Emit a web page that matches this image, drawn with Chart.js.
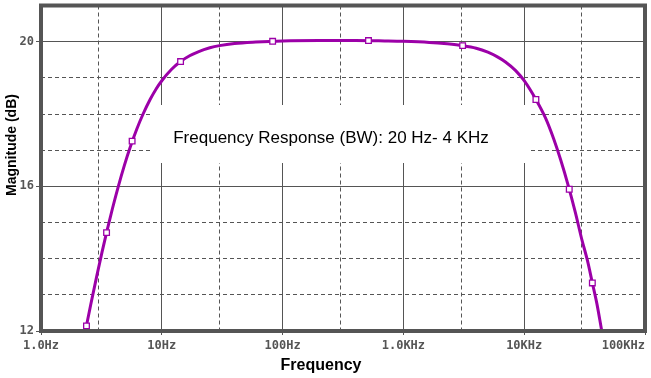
<!DOCTYPE html>
<html>
<head>
<meta charset="utf-8">
<script src="https://cdn.jsdelivr.net/npm/chart.js@4/dist/chart.umd.min.js"></script>
<style>
  html, body { margin: 0; padding: 0; background: #fff; }
  #wrap { width: 651px; height: 378px; }
</style>
</head>
<body>
<div id="wrap"><canvas id="chart" width="651" height="378"></canvas></div>
<script>
// trace (Hz, dB)
const freqHz = [2.2, 2.33, 2.6, 2.9, 3.2, 3.5, 3.9, 4.35, 4.9, 5.5, 6.2, 7, 8, 9, 10, 12, 14.3, 17, 20, 25, 30, 40, 60,
  100, 200, 400, 700, 1000, 1640, 2300, 3092, 4000, 5000, 6000, 7000, 8500, 10000, 12500, 15000, 17500, 20000,
  23250, 26500, 30000, 33370, 36650, 40000, 43850, 47000]
const magDb = [11.56, 12.0, 12.78, 13.53, 14.18, 14.74, 15.38, 15.98, 16.58, 17.1, 17.58, 18.0, 18.4, 18.7, 18.92,
  19.23, 19.45, 19.61, 19.72, 19.83, 19.89, 19.95, 19.99,
  20.02, 20.03, 20.03, 20.02, 20.01, 19.98, 19.94, 19.89, 19.82, 19.71, 19.58, 19.44, 19.2, 18.92, 18.4, 17.89,
  17.32, 16.74, 16.0, 15.28, 14.53, 13.95, 13.33, 12.75, 12.0, 11.45]

// little square markers on the trace
const markerHz = [2.38, 3.49, 5.68, 14.3, 82.7, 514, 3092, 12500, 23600, 36650]
const markerDb = [12.14, 14.72, 17.25, 19.45, 20.01, 20.03, 19.89, 18.4, 15.92, 13.33]

const xTickValues = [1, 3, 10, 30, 100, 300, 1000, 3000, 10000, 30000, 100000]
// last label sits inside the frame, padded so it is not cut at the edge
const xTickLabels = { 1: '1.0Hz', 10: '10Hz', 100: '100Hz', 1000: '1.0KHz', 10000: '10KHz', 100000: '100KHz      ' }
const yMajor = [12, 16, 20]

const traceColor = '#9c00a8'
const gridColor = '#555'

const frame = {
  id: 'frame',
  beforeDatasetsDraw(chart) {
    const ctx = chart.ctx
    // white label box over the grid
    ctx.save()
    ctx.fillStyle = '#fff'
    ctx.fillRect(152, 105, 376, 58)
    ctx.fillStyle = '#000'
    ctx.font = '17px "Liberation Sans", Arial, sans-serif'
    ctx.textAlign = 'center'
    ctx.textBaseline = 'middle'
    ctx.fillText('Frequency Response (BW): 20 Hz- 4 KHz', 331, 138)
    ctx.restore()
  },
  afterDatasetsDraw(chart) {
    const ctx = chart.ctx
    const a = chart.chartArea
    ctx.save()
    ctx.strokeStyle = '#555'
    ctx.lineWidth = 4
    ctx.strokeRect(a.left, a.top, a.right - a.left, a.bottom - a.top)
    // axis titles
    ctx.fillStyle = '#000'
    ctx.font = 'bold 16px "Liberation Sans", Arial, sans-serif'
    ctx.textAlign = 'center'
    ctx.textBaseline = 'middle'
    ctx.fillText('Frequency', 321, 366)
    ctx.translate(12.5, 145)
    ctx.rotate(-Math.PI / 2)
    ctx.font = 'bold 14px "Liberation Sans", Arial, sans-serif'
    ctx.fillText('Magnitude (dB)', 0, 0)
    ctx.restore()
  }
}

const tickFont = { family: '"DejaVu Sans Mono", monospace', size: 12, weight: 'bold' }

new Chart(document.getElementById('chart'), {
  type: 'line',
  data: {
    datasets: [
      {
        data: freqHz.map((f, i) => ({ x: f, y: magDb[i] })),
        borderColor: traceColor,
        borderWidth: 3,
        pointRadius: 0,
        cubicInterpolationMode: 'monotone',
        fill: false,
        order: 2
      },
      {
        data: markerHz.map((f, i) => ({ x: f, y: markerDb[i] })),
        showLine: false,
        pointStyle: 'rect',
        pointRadius: 4,
        pointBorderWidth: 1.3,
        pointBorderColor: traceColor,
        pointBackgroundColor: '#fff',
        order: 1
      }
    ]
  },
  options: {
    responsive: false,
    animation: false,
    layout: { padding: { top: 5.5, right: 6, left: 0, bottom: 0 } },
    plugins: { legend: { display: false }, tooltip: { enabled: false } },
    scales: {
      x: {
        type: 'logarithmic',
        min: 1,
        max: 100000,
        afterBuildTicks: (s) => { s.ticks = xTickValues.map((v) => ({ value: v })) },
        afterFit: (s) => { s.height = 47; s.paddingLeft = 0; s.paddingRight = 0 },
        ticks: {
          autoSkip: false,
          maxRotation: 0,
          padding: 4,
          color: '#555',
          font: tickFont,
          callback: (v) => xTickLabels[v] || ''
        },
        grid: {
          color: gridColor,
          lineWidth: 1,
          tickLength: 4,
          tickColor: (c) => (c.tick && xTickLabels[c.tick.value] ? gridColor : 'rgba(0,0,0,0)')
        },
        border: {
          display: false,
          dash: (c) => (c.tick && !xTickLabels[c.tick.value] ? [4, 3] : [])
        }
      },
      y: {
        min: 12,
        max: 21,
        afterFit: (s) => { s.width = 41; s.paddingTop = 0; s.paddingBottom = 0 },
        ticks: {
          stepSize: 1,
          padding: 2,
          color: '#555',
          font: tickFont,
          callback: (v) => (yMajor.includes(v) ? String(v) : '')
        },
        grid: {
          color: gridColor,
          lineWidth: 1,
          tickLength: 5,
          tickColor: (c) => (c.tick && yMajor.includes(c.tick.value) ? gridColor : 'rgba(0,0,0,0)')
        },
        border: {
          display: false,
          dash: (c) => (c.tick && !yMajor.includes(c.tick.value) ? [4, 3] : [])
        }
      }
    }
  },
  plugins: [frame]
})
</script>
</body>
</html>
